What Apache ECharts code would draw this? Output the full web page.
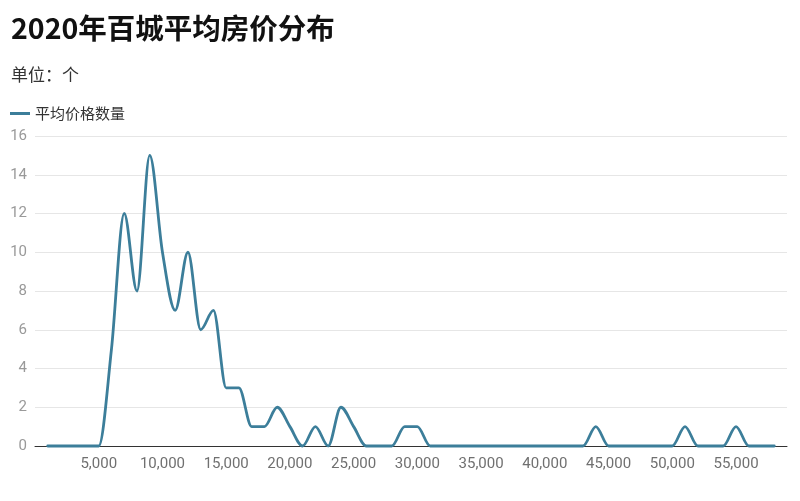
<!DOCTYPE html>
<html>
<head>
<meta charset="utf-8">
<script src="https://cdn.jsdelivr.net/npm/echarts@6/dist/echarts.min.js"></script>
<style>
html,body{margin:0;padding:0;background:#fff;}
#chart{width:800px;height:501px;}
</style>
</head>
<body>
<div id="chart"></div>
<script>
var titleText = '2020年百城平均房价分布';
var subtitleText = '单位：个';
var seriesName = '平均价格数量';
var prices = [1000,2000,3000,4000,5000,6000,7000,8000,9000,10000,11000,12000,13000,14000,15000,16000,17000,18000,19000,20000,21000,22000,23000,24000,25000,26000,27000,28000,29000,30000,31000,32000,33000,34000,35000,36000,37000,38000,39000,40000,41000,42000,43000,44000,45000,46000,47000,48000,49000,50000,51000,52000,53000,54000,55000,56000,57000,58000];
var counts = [0,0,0,0,0,5,12,8,15,10,7,10,6,7,3,3,1,1,2,1,0,1,0,2,1,0,0,0,1,1,0,0,0,0,0,0,0,0,0,0,0,0,0,1,0,0,0,0,0,0,1,0,0,0,1,0,0,0];
var xTicks = [5000,10000,15000,20000,25000,30000,35000,40000,45000,50000,55000];
var yTicks = [0,2,4,6,8,10,12,14,16];

var LINE_COLOR = '#3c7e9a';
var data = prices.map(function(p,i){return [p, counts[i]];});
var FONT = 'Roboto, "Noto Sans CJK SC", sans-serif';

function sign(v){ return v < 0 ? -1 : 1; }
// monotone cubic (Fritsch–Carlson) path through pixel points given by the axes
function monotonePath(pts){
  var n = pts.length, i, t = new Array(n);
  if (n < 2) return '';
  var s = [];
  for (i = 0; i < n - 1; i++) {
    var h = pts[i+1][0] - pts[i][0];
    s.push(h ? (pts[i+1][1] - pts[i][1]) / h : 0);
  }
  for (i = 1; i < n - 1; i++) {
    var h0 = pts[i][0] - pts[i-1][0], h1 = pts[i+1][0] - pts[i][0];
    var s0 = s[i-1], s1 = s[i];
    var p = (s0 * h1 + s1 * h0) / (h0 + h1);
    t[i] = (sign(s0) + sign(s1)) * Math.min(Math.abs(s0), Math.abs(s1), 0.5 * Math.abs(p)) || 0;
  }
  if (n === 2) { t[0] = t[1] = s[0]; }
  else {
    t[0] = (3 * s[0] - t[1]) / 2;
    t[n-1] = (3 * s[n-2] - t[n-2]) / 2;
  }
  var d = 'M' + pts[0][0] + ' ' + pts[0][1];
  for (i = 0; i < n - 1; i++) {
    var x0 = pts[i][0], y0 = pts[i][1], x1 = pts[i+1][0], y1 = pts[i+1][1];
    var dx = (x1 - x0) / 3;
    d += 'C' + (x0 + dx) + ' ' + (y0 + dx * t[i]) + ' ' + (x1 - dx) + ' ' + (y1 - dx * t[i+1]) + ' ' + x1 + ' ' + y1;
  }
  return d;
}

var chart = echarts.init(document.getElementById('chart'), null, {renderer:'canvas'});
chart.setOption({
  animation:false,
  textStyle:{fontFamily:FONT},
  title:[
    {text:titleText, left:6, top:9, textStyle:{fontSize:28.5, fontWeight:'bold', color:'#111', fontFamily:'"Noto Sans CJK SC", sans-serif'}},
    {text:subtitleText, left:6, top:61, textStyle:{fontSize:17, fontWeight:'normal', color:'#333', fontFamily:'"Noto Sans CJK SC", sans-serif'}}
  ],
  legend:{
    left:5, top:101, icon:'rect', itemWidth:20, itemHeight:3, itemGap:10,
    textStyle:{fontSize:15, color:'#333', fontFamily:'"Noto Sans CJK SC", sans-serif'},
    data:[seriesName]
  },
  grid:{left:35, right:13, top:136, bottom:55, containLabel:false},
  xAxis:{
    type:'value', min:0, max:59000, interval:5000,
    axisLine:{show:true, lineStyle:{color:'#333', width:1}},
    axisTick:{show:false},
    splitLine:{show:false},
    axisLabel:{
      color:'#707070', fontSize:15, margin:11, showMinLabel:false, showMaxLabel:false, fontFamily:FONT,
      formatter:function(v){ return xTicks.indexOf(v) >= 0 ? v.toLocaleString('en-US') : ''; }
    }
  },
  yAxis:{
    type:'value', min:yTicks[0], max:yTicks[yTicks.length-1], interval:2,
    axisLine:{show:false},
    axisTick:{show:false},
    splitLine:{lineStyle:{color:'#e6e6e6', width:1}},
    axisLabel:{color:'#999', fontSize:15, margin:8, fontFamily:FONT}
  },
  series:[{
    name:seriesName, type:'custom', data:data,
    encode:{x:0, y:1},
    itemStyle:{color:LINE_COLOR},
    renderItem:function(params, api){
      if (params.dataIndex !== 0) return null;
      var pts = prices.map(function(p, i){ return api.coord([p, counts[i]]); });
      return {
        type:'path',
        shape:{pathData: monotonePath(pts)},
        style:{fill:'none', stroke:LINE_COLOR, lineWidth:2.8, lineJoin:'round', lineCap:'round'}
      };
    }
  }]
});
</script>
</body>
</html>
